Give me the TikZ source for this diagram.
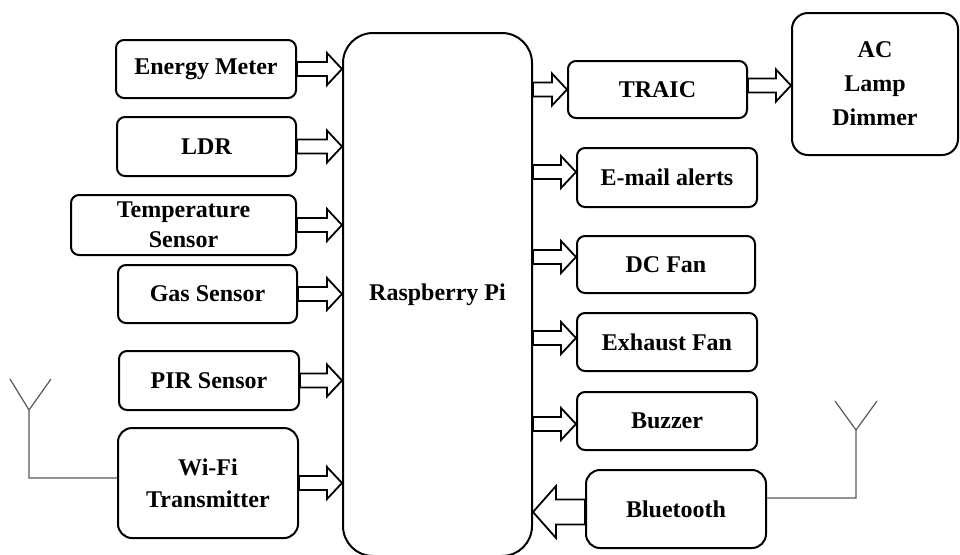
\documentclass[tikz,border=0pt]{standalone}
\usepackage{fontspec}
\setmainfont{Liberation Serif}
\usetikzlibrary{calc}

\tikzset{
  blk shaft/.store in=\blkshaft, blk head/.store in=\blkhead, blk len/.store in=\blklen,
  blk shaft=3.5pt, blk head=8pt, blk len=7.5pt,
  blk/.style={to path={
    let \p1=(\tikztostart), \p2=(\tikztotarget), \n1={(\x2>\x1)*2-1} in
    (\x1,\y1+\blkshaft) -- (\x2-\n1*\blklen,\y1+\blkshaft) -- (\x2-\n1*\blklen,\y1+\blkhead)
    -- (\x2,\y1) -- (\x2-\n1*\blklen,\y1-\blkhead) -- (\x2-\n1*\blklen,\y1-\blkshaft)
    -- (\x1,\y1-\blkshaft) -- cycle}}
}

\begin{document}
\begin{tikzpicture}[x=0.5pt, y=-0.5pt,
    box/.style={draw, line width=1pt, rounded corners=4pt, align=center, inner sep=0pt,
      minimum width=90pt, minimum height=29pt, font=\bfseries\fontsize{12}{15}\selectfont},
    arr/.style={draw, line width=0.9pt, fill=white, line join=miter},
    ant/.style={draw=black!65, line width=0.6pt}]
    \useasboundingbox (0,0) rectangle (960,554);

    \node[box] (em) at (206,69) {Energy Meter};
    \node[box, minimum width=89.5pt, minimum height=29.5pt] (ldr) at (206.5,146.5) {LDR};
    \node[box, minimum width=112.5pt, minimum height=30pt] (temp) at (183.5,225) {Temperature\\Sensor};
    \node[box, minimum width=89.5pt] (gas) at (207.5,294) {Gas Sensor};
    \node[box, minimum height=29.5pt] (pir) at (209,380.5) {PIR Sensor};
    \node[box, minimum height=55pt, rounded corners=7pt, font=\bfseries\fontsize{12}{16}\selectfont] (wifi) at (208,483) {Wi-Fi\\Transmitter};

    \node[box, minimum width=94.5pt, minimum height=261.5pt, rounded corners=15pt] (pi) at (437.5,294.5) {Raspberry Pi};

    \node[box, minimum width=89.5pt, minimum height=28.5pt] (traic) at (657.5,89.5) {TRAIC};
    \node[box, minimum width=83pt, minimum height=71pt, rounded corners=8pt, font=\bfseries\fontsize{12}{17}\selectfont] (ac) at (875,84) {AC\\Lamp\\Dimmer};
    \node[box, minimum height=29.5pt] (mail) at (667,177.5) {E-mail alerts};
    \node[box, minimum width=89pt, minimum height=28.5pt] (dc) at (666,264.5) {DC Fan};
    \node[box] (exh) at (667,342) {Exhaust Fan};
    \node[box] (buz) at (667,421) {Buzzer};
    \node[box, minimum height=39pt, rounded corners=7pt] (bt) at (676,509) {Bluetooth};

    \foreach \b in {em,ldr,temp,gas,pir,wifi}
      \draw[arr] (\b.east) to[blk] (\b.east -| pi.west);

    \foreach \b/\s in {traic/0pt, mail/2.75pt, dc/3.75pt, exh/2pt, buz/-1.5pt}
      \draw[arr] ($(pi.east |- \b.west)+(0pt,\s)$) to[blk] ($(\b.west)+(0pt,\s)$);

    \draw[arr] ($(traic.east)+(0pt,2pt)$) to[blk] ($(traic.east -| ac.west)+(0pt,2pt)$);
    \draw[arr, blk shaft=6.25pt, blk head=13pt, blk len=11.5pt] ($(bt.west)+(0pt,-1.5pt)$) to[blk] ($(bt.west -| pi.east)+(0pt,-1.5pt)$);

    % antennas
    \draw[ant] ($(wifi.west)+(0pt,2.5pt)$) -- ++(-88,0) -- ++(0,-68) coordinate (wtop) -- ++(-19,-31) (wtop) -- ++(22,-31);
    \draw[ant] ($(bt.east)+(0pt,5.5pt)$) -- ++(89,0) -- ++(0,-68) coordinate (btop) -- ++(-21,-29) (btop) -- ++(21,-29);
\end{tikzpicture}
\end{document}
